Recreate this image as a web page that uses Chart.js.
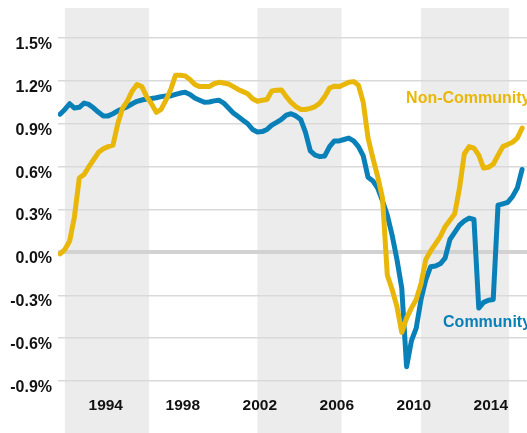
<!DOCTYPE html>
<html>
<head>
<meta charset="utf-8">
<script src="https://cdn.jsdelivr.net/npm/chart.js@4/dist/chart.umd.min.js"></script>
<style>
  html, body { margin: 0; padding: 0; background: #ffffff; }
  #wrap { width: 527px; height: 433px; position: relative; }
</style>
</head>
<body>
<div id="wrap"><canvas id="growthChart"></canvas></div>
<script>
// quarters covered by the chart: 1991 Q3 to 2015 Q3
const years = [1991, 1992, 1993, 1994, 1995, 1996, 1997, 1998, 1999, 2000, 2001, 2002, 2003,
               2004, 2005, 2006, 2007, 2008, 2009, 2010, 2011, 2012, 2013, 2014, 2015];
const quarterLabels = years.flatMap(function(y) {
    return ['Q1', 'Q2', 'Q3', 'Q4'].map(function(q) { return y + q; });
}).slice(2, 99);

// percent values
const communityValues = [
    0.967, 1.00, 1.04, 1.01, 1.015, 1.045, 1.035, 1.01, 0.98, 0.955,
    0.955, 0.97, 0.99, 1.005, 1.02, 1.04, 1.057, 1.066, 1.073, 1.077,
    1.082, 1.09, 1.095, 1.095, 1.105, 1.115, 1.12, 1.105, 1.08, 1.065,
    1.05, 1.052, 1.06, 1.065, 1.045, 1.01, 0.975, 0.95, 0.925, 0.90,
    0.86, 0.843, 0.845, 0.86, 0.89, 0.91, 0.93, 0.96, 0.97, 0.955,
    0.93, 0.84, 0.71, 0.68, 0.67, 0.675, 0.74, 0.78, 0.78, 0.79,
    0.80, 0.78, 0.74, 0.675, 0.525, 0.50, 0.45, 0.36, 0.26, 0.12,
    -0.05, -0.25, -0.80, -0.62, -0.53, -0.33, -0.19, -0.10, -0.095, -0.08,
    -0.04, 0.09, 0.14, 0.19, 0.22, 0.24, 0.23, -0.39, -0.35, -0.335,
    -0.33, 0.33, 0.34, 0.35, 0.39, 0.45, 0.58
];
const nonCommunityValues = [
    -0.01, 0.02, 0.08, 0.25, 0.52, 0.545, 0.60, 0.65, 0.70, 0.725,
    0.74, 0.75, 0.90, 1.01, 1.06, 1.13, 1.175, 1.16, 1.09, 1.04,
    0.98, 1.00, 1.065, 1.14, 1.24, 1.24, 1.235, 1.21, 1.175, 1.16,
    1.16, 1.16, 1.18, 1.19, 1.185, 1.178, 1.16, 1.14, 1.125, 1.11,
    1.075, 1.058, 1.065, 1.07, 1.13, 1.135, 1.137, 1.09, 1.05, 1.02,
    1.00, 1.00, 1.008, 1.02, 1.045, 1.09, 1.15, 1.163, 1.16, 1.175,
    1.19, 1.195, 1.17, 1.05, 0.80, 0.66, 0.53, 0.38, -0.16, -0.26,
    -0.38, -0.56, -0.46, -0.39, -0.33, -0.22, -0.05, 0.01, 0.06, 0.11,
    0.18, 0.225, 0.27, 0.45, 0.69, 0.74, 0.73, 0.68, 0.59, 0.595,
    0.617, 0.68, 0.74, 0.755, 0.77, 0.80, 0.87
];

const xTickYears = [1994, 1998, 2002, 2006, 2010, 2014];
const yTickValues = [-0.9, -0.6, -0.3, 0, 0.3, 0.6, 0.9, 1.2, 1.5];
// shaded periods (decimal years)
const shadedPeriods = [[1991.875, 1996.25], [2001.875, 2006.25], [2010.375, 2014.95]];

const seriesNames = ['Non-Community', 'Community'];
const yellow = '#e8b70a';
const blue = '#0a80b8';

function quarterToYear(label) {
    const y = parseInt(label.slice(0, 4), 10);
    const q = parseInt(label.slice(5), 10);
    return y + (q - 0.5) / 4;
}

function toPoints(values) {
    return values.map(function(v, i) { return { x: quarterToYear(quarterLabels[i]), y: v }; });
}

const fontFamily = '"Liberation Sans", Arial, sans-serif';

const bandsPlugin = {
    id: 'bands',
    beforeDraw: function(chart) {
        const ctx = chart.ctx;
        const x = chart.scales.x;
        const top = chart.chartArea.top;
        ctx.save();
        ctx.fillStyle = '#ececec';
        shadedPeriods.forEach(function(p) {
            const x0 = x.getPixelForValue(p[0]);
            const x1 = x.getPixelForValue(p[1]);
            ctx.fillRect(x0, top, x1 - x0, chart.height - top);
        });
        ctx.restore();
    }
};

const labelsPlugin = {
    id: 'seriesLabels',
    afterDatasetsDraw: function(chart) {
        const ctx = chart.ctx;
        const x = chart.scales.x;
        const y = chart.scales.y;
        ctx.save();
        ctx.font = 'bold 16px ' + fontFamily;
        ctx.textAlign = 'left';
        ctx.textBaseline = 'middle';
        ctx.fillStyle = yellow;
        ctx.fillText(seriesNames[0], x.getPixelForValue(2009.6), y.getPixelForValue(1.078));
        ctx.fillStyle = blue;
        ctx.fillText(seriesNames[1], x.getPixelForValue(2011.52), y.getPixelForValue(-0.49));
        ctx.restore();
    }
};

const ctx = document.getElementById('growthChart').getContext('2d');
new Chart(ctx, {
    type: 'line',
    data: {
        datasets: [
            {
                label: seriesNames[0],
                data: toPoints(nonCommunityValues),
                borderColor: yellow,
                borderWidth: 5,
                pointRadius: 0,
                tension: 0,
                borderCapStyle: 'round',
                borderJoinStyle: 'round',
                order: 0
            },
            {
                label: seriesNames[1],
                data: toPoints(communityValues),
                borderColor: blue,
                borderWidth: 5,
                pointRadius: 0,
                tension: 0,
                borderCapStyle: 'round',
                borderJoinStyle: 'round',
                order: 1
            }
        ]
    },
    options: {
        responsive: true,
        maintainAspectRatio: false,
        animation: false,
        layout: { padding: { top: 8, right: 0, left: 0, bottom: 0 } },
        plugins: {
            legend: { display: false },
            tooltip: { enabled: false }
        },
        scales: {
            x: {
                type: 'linear',
                min: 1991.52,
                max: 2015.88,
                afterBuildTicks: function(scale) {
                    scale.ticks = xTickYears.map(function(v) { return { value: v }; });
                },
                afterFit: function(scale) {
                    scale.height = 52;
                    scale.paddingLeft = 0;
                    scale.paddingRight = 0;
                },
                grid: { display: false, drawTicks: false },
                border: { display: false },
                ticks: {
                    padding: 15,
                    autoSkip: false,
                    maxRotation: 0,
                    color: '#111111',
                    font: { family: fontFamily, size: 15.5, weight: 'bold' },
                    callback: function(v) { return String(v); }
                }
            },
            y: {
                min: -0.9,
                max: 1.71,
                afterBuildTicks: function(scale) {
                    scale.ticks = yTickValues.map(function(v) { return { value: v }; });
                },
                afterFit: function(scale) {
                    scale.width = 58;
                    scale.paddingTop = 0;
                    scale.paddingBottom = 0;
                },
                grid: {
                    drawTicks: false,
                    color: function(c) { return c.tick && c.tick.value === 0 ? '#d2d2d2' : '#d9d9d9'; },
                    lineWidth: function(c) { return c.tick && c.tick.value === 0 ? 4 : 1.5; }
                },
                border: { display: false },
                ticks: {
                    padding: 6,
                    labelOffset: 6.5,
                    color: '#111111',
                    font: { family: fontFamily, size: 16, weight: 'bold' },
                    callback: function(v) { return v.toFixed(1) + '%'; }
                }
            }
        }
    },
    plugins: [bandsPlugin, labelsPlugin]
});
</script>
</body>
</html>
